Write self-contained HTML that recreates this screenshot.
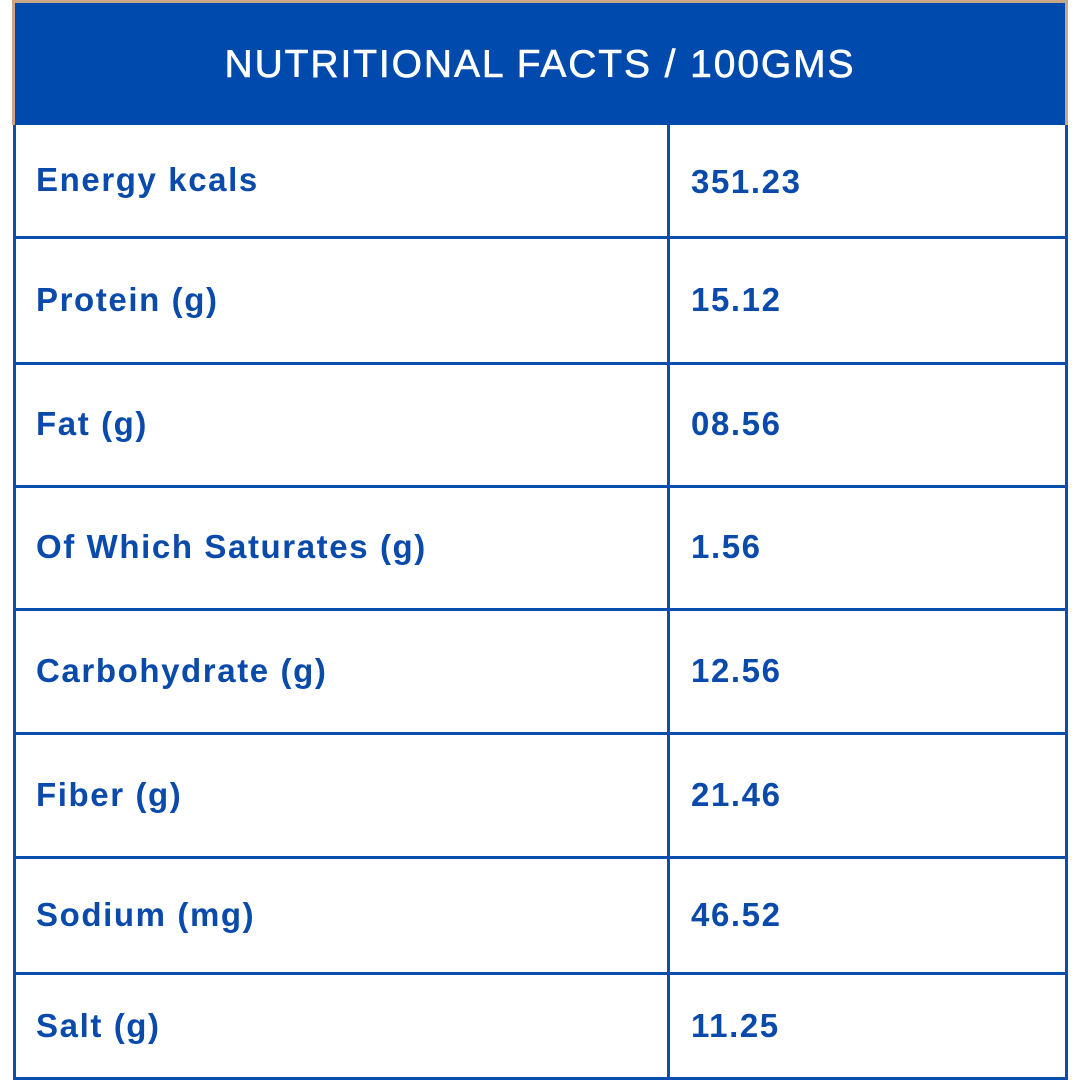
<!DOCTYPE html>
<html><head><style>
body{margin:0;width:1080px;height:1080px;background:#fff;position:relative;overflow:hidden;font-family:"Liberation Sans",sans-serif}
.hd{position:absolute;left:12px;top:0;width:1050px;height:122px;background:#004aad;border:3px solid #c9a688;border-bottom:none;color:#fff;font-size:39px;text-align:center;line-height:124px;letter-spacing:1.9px;-webkit-text-stroke:0.6px #fff}
.h{position:absolute;left:13px;width:1055px;height:3px;background:#0a4fb0}
.v{position:absolute;top:125px;width:3px;height:955px;background:#0a4fb0}
.t{position:absolute;color:#0a4aab;font-weight:bold;font-size:33px;letter-spacing:1.6px}
</style></head><body>
<div class="hd">NUTRITIONAL FACTS / 100GMS</div>
<div class="v" style="left:13px"></div>
<div class="v" style="left:667px"></div>
<div class="v" style="left:1065px"></div>
<div class="h" style="top:236px"></div>
<div class="h" style="top:362px"></div>
<div class="h" style="top:485px"></div>
<div class="h" style="top:608px"></div>
<div class="h" style="top:732px"></div>
<div class="h" style="top:856px"></div>
<div class="h" style="top:972px"></div>
<div class="h" style="top:1077px"></div>
<div class="t" style="left:36px;top:161px">Energy kcals</div><div class="t" style="left:691px;top:163px">351.23</div>
<div class="t" style="left:36px;top:281px">Protein (g)</div><div class="t" style="left:691px;top:281px">15.12</div>
<div class="t" style="left:36px;top:405px">Fat (g)</div><div class="t" style="left:691px;top:405px">08.56</div>
<div class="t" style="left:36px;top:528px">Of Which Saturates (g)</div><div class="t" style="left:691px;top:528px">1.56</div>
<div class="t" style="left:36px;top:652px">Carbohydrate (g)</div><div class="t" style="left:691px;top:652px">12.56</div>
<div class="t" style="left:36px;top:776px">Fiber (g)</div><div class="t" style="left:691px;top:776px">21.46</div>
<div class="t" style="left:36px;top:896px">Sodium (mg)</div><div class="t" style="left:691px;top:896px">46.52</div>
<div class="t" style="left:36px;top:1007px">Salt (g)</div><div class="t" style="left:691px;top:1007px">11.25</div>
</body></html>
